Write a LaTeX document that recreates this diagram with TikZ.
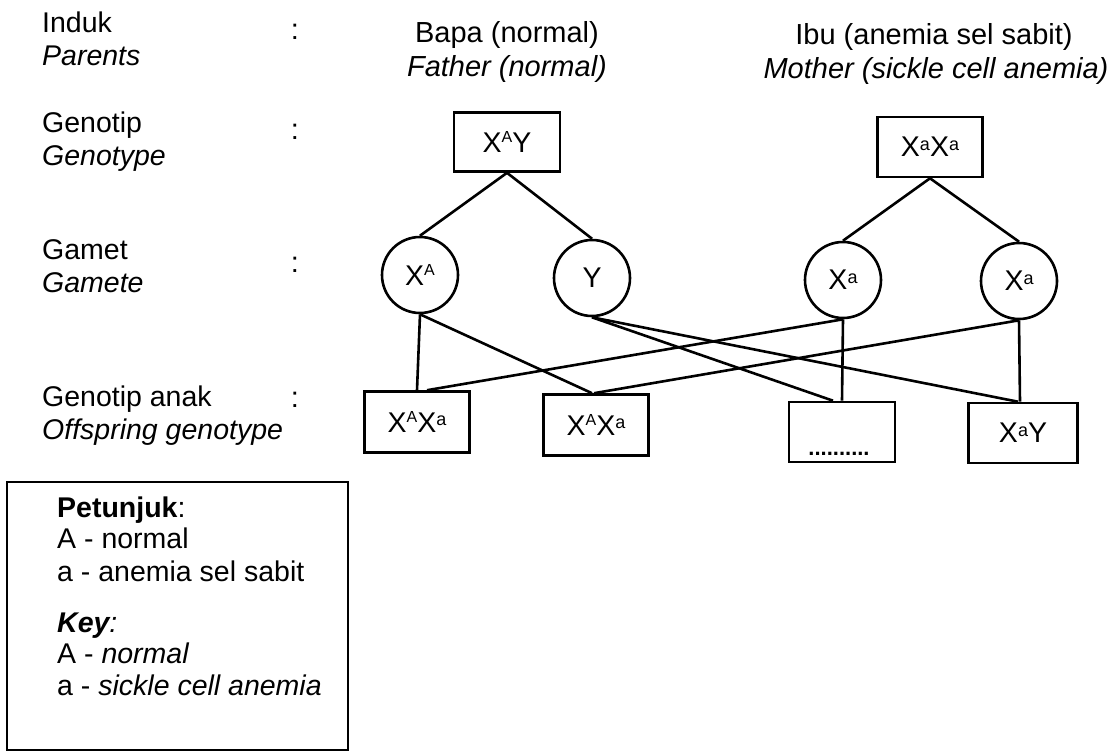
\documentclass[tikz,border=0pt]{standalone}
\usepackage{fontspec}
\setmainfont{Liberation Sans}
\newcommand{\bigtxt}{\fontsize{28.5}{33}\selectfont}
\newcommand{\ttltxt}{\fontsize{29}{33}\selectfont}
\newcommand{\supA}{\raisebox{9.5pt}{\fontsize{16}{16}\selectfont A}}
\newcommand{\supa}{\raisebox{6.5pt}{\fontsize{18}{18}\selectfont a}}
\tikzset{
  lbl/.style={anchor=base west, inner sep=0pt, font=\bigtxt},
  ttl/.style={anchor=base, inner sep=0pt, font=\ttltxt},
  gbox/.style={draw, line width=2.6pt, inner sep=0pt, font=\bigtxt},
  gcirc/.style={draw, circle, line width=2.6pt, inner sep=0pt, minimum size=76pt, font=\bigtxt},
  conn/.style={line width=2.6pt},
}
\begin{document}
\begin{tikzpicture}[x=1pt,y=-1pt]
\useasboundingbox (0,0) rectangle (1114,753);

% left labels
\node[lbl] (l1a) at (42,32) {Induk};
\node[lbl] (l1b) at (42,65) {\itshape Parents};
\node[lbl] (l2a) at (42,132) {Genotip};
\node[lbl] (l2b) at (42,165) {\itshape Genotype};
\node[lbl] (l3a) at (42,259) {Gamet};
\node[lbl] (l3b) at (42,292) {\itshape Gamete};
\node[lbl] (l4a) at (42,406) {Genotip anak};
\node[lbl] (l4b) at (42,439) {\itshape Offspring genotype};
\node[ttl] (c1) at (295,39) {:};
\node[ttl] (c2) at (295,139) {:};
\node[ttl] (c3) at (295,272) {:};
\node[ttl] (c4) at (295,407) {:};

% titles
\node[ttl] (t1a) at (507,42) {Bapa (normal)};
\node[ttl] (t1b) at (507,76) {\itshape Father (normal)};
\node[ttl] (t2a) at (934,44) {Ibu (anemia sel sabit)};
\node[ttl] (t2b) at (936,78) {\itshape Mother (sickle cell anemia)};

% parents
\node[gbox, minimum width=106pt, minimum height=59pt] (pf) at (507,142) {X\supA Y};
\node[gbox, minimum width=105pt, minimum height=60pt] (pm) at (930,147) {X\supa X\supa};

% gametes
\node[gcirc] (gA) at (420,275) {X\supA};
\node[gcirc] (gY) at (592,278) {Y};
\node[gcirc] (gM1) at (843,280) {X\supa};
\node[gcirc] (gM2) at (1019,281) {X\supa};

% offspring
\node[gbox, minimum width=105pt, minimum height=61pt] (o1) at (417,422) {X\supA X\supa};
\node[gbox, minimum width=105pt, minimum height=61pt] (o2) at (596,425) {X\supA X\supa};
\node[gbox, minimum width=106pt, minimum height=60pt] (o3) at (842,432) {};
\node[anchor=base, inner sep=0pt, font=\bfseries\fontsize{22}{22}\selectfont] (o3dots) at (839,455) {..........};
\node[gbox, minimum width=109pt, minimum height=60pt] (o4) at (1023,433) {X\supa Y};

% connectors
\draw[conn] (pf.south) -- (gA.north);
\draw[conn] (pf.south) -- (gY.north);
\draw[conn] (pm.south) -- (gM1.north);
\draw[conn] (pm.south) -- (gM2.north);
\draw[conn] (gA.south) -- (o1.north);
\draw[conn] (gA.south) -- ([xshift=-4pt]o2.north);
\draw[conn] (gY.south) -- ([xshift=-9pt]o3.north);
\draw[conn] (gY.south) -- ([xshift=-5pt]o4.north);
\draw[conn] (gM1.south) -- ([xshift=10pt]o1.north);
\draw[conn] (gM1.south) -- (o3.north);
\draw[conn] (gM2.south) -- ([xshift=-2pt]o2.north);
\draw[conn] (gM2.south) -- ([xshift=-3pt]o4.north);

% legend
\draw[line width=1.8pt] (7,482) rectangle (348,750);
\node[lbl] (k1) at (57,517) {\bfseries Petunjuk\mdseries:};
\node[lbl] (k2) at (57,548) {A - normal};
\node[lbl] (k3) at (57,581) {a - anemia sel sabit};
\node[lbl] (k4) at (57,632) {\itshape\bfseries Key\mdseries:};
\node[lbl] (k5) at (57,663) {A - \itshape normal};
\node[lbl] (k6) at (57,695) {a - \itshape sickle cell anemia};
\end{tikzpicture}
\end{document}
